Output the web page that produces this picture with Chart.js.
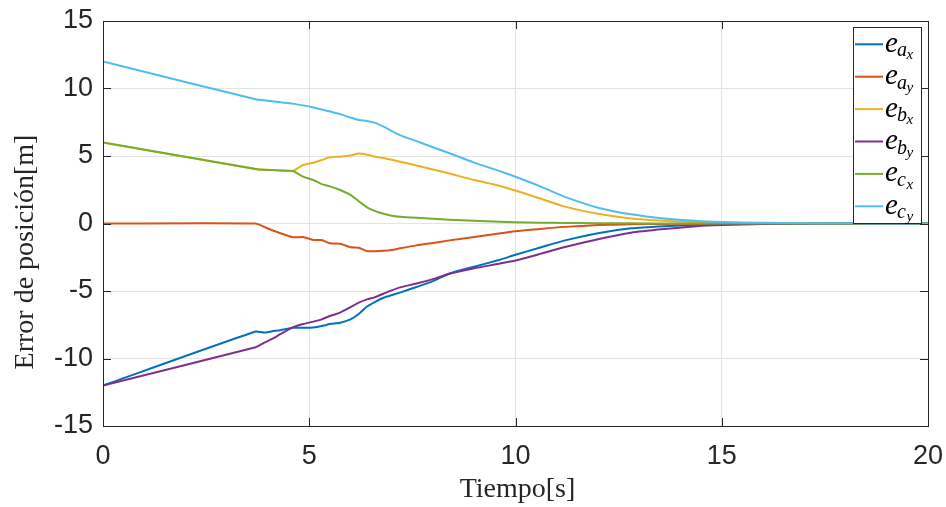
<!DOCTYPE html>
<html>
<head>
<meta charset="utf-8">
<script src="https://cdn.jsdelivr.net/npm/chart.js@4/dist/chart.umd.min.js"></script>
<style>
html,body{margin:0;padding:0;background:#fff;}
#wrap{width:946px;height:507px;position:relative;}
</style>
</head>
<body>
<div id="wrap"><canvas id="c" width="946" height="507"></canvas></div>
<script>
// ---- data ----
const times = [0, 3.7, 3.9, 4.1, 4.3, 4.6, 4.85, 5.1, 5.3, 5.5, 5.75, 6.0, 6.2, 6.4, 6.6, 6.8, 7.0, 7.2, 7.6, 8.0, 8.4, 9.0, 9.6, 10.0, 10.6, 11.2, 12.0, 12.8, 13.6, 14.4, 15, 16, 17, 18, 20];
const e_ax = [-12, -8.0, -8.08, -7.98, -7.9, -7.72, -7.72, -7.7, -7.6, -7.45, -7.35, -7.1, -6.7, -6.15, -5.8, -5.5, -5.3, -5.12, -4.7, -4.27, -3.7, -3.2, -2.7, -2.32, -1.78, -1.25, -0.72, -0.36, -0.2, -0.1, -0.06, -0.02, -0.01, 0, 0];
const e_ay = [0, 0, -0.24, -0.5, -0.72, -1.02, -1.0, -1.22, -1.22, -1.47, -1.5, -1.76, -1.79, -2.04, -2.05, -2.02, -1.96, -1.84, -1.62, -1.44, -1.25, -1.0, -0.74, -0.58, -0.4, -0.25, -0.12, -0.06, -0.03, -0.02, -0.01, 0, 0, 0, 0];
const e_bx = [6, 4.04, 3.98, 3.96, 3.93, 3.89, 4.33, 4.5, 4.7, 4.9, 4.95, 5.03, 5.18, 5.1, 4.95, 4.85, 4.72, 4.58, 4.3, 4.0, 3.7, 3.22, 2.8, 2.44, 1.85, 1.25, 0.72, 0.37, 0.2, 0.1, 0.06, 0.02, 0.01, 0, 0];
const e_by = [-12, -9.17, -8.85, -8.55, -8.2, -7.69, -7.45, -7.27, -7.1, -6.85, -6.6, -6.2, -5.86, -5.62, -5.45, -5.2, -4.95, -4.73, -4.45, -4.12, -3.72, -3.32, -2.98, -2.74, -2.25, -1.74, -1.16, -0.68, -0.41, -0.2, -0.12, -0.04, -0.01, 0, 0];
const e_cx = [6, 4.04, 3.98, 3.96, 3.93, 3.89, 3.47, 3.22, 2.92, 2.75, 2.48, 2.12, 1.65, 1.2, 0.92, 0.72, 0.58, 0.5, 0.42, 0.36, 0.28, 0.2, 0.13, 0.1, 0.06, 0.04, 0.02, 0.01, 0, 0, 0, 0, 0, 0, 0];
const e_cy = [12, 9.2, 9.13, 9.05, 8.98, 8.88, 8.75, 8.6, 8.45, 8.3, 8.1, 7.85, 7.67, 7.6, 7.45, 7.17, 6.85, 6.55, 6.1, 5.65, 5.2, 4.51, 3.9, 3.46, 2.75, 1.97, 1.17, 0.68, 0.37, 0.19, 0.12, 0.05, 0.02, 0.01, 0];
const xTicks = [0, 5, 10, 15, 20];
const yTicks = [-15, -10, -5, 0, 5, 10, 15];
const legendMain = ['e', 'e', 'e', 'e', 'e', 'e'];
const legendSub = ['a', 'a', 'b', 'b', 'c', 'c'];
const legendSubSub = ['x', 'y', 'x', 'y', 'x', 'y'];
const xTitle = 'Tiempo[s]';
const yTitle = 'Error de posición[m]';

const seriesList = [e_ax, e_ay, e_bx, e_by, e_cx, e_cy];
const colors = ['#0072BD', '#D95319', '#EDB120', '#7E2F8E', '#77AC30', '#4DBEEE'];

const datasets = seriesList.map((vals, i) => ({
  label: legendMain[i] + '_' + legendSub[i] + legendSubSub[i],
  data: times.map((t, k) => ({x: t, y: vals[k]})),
  borderColor: colors[i],
  backgroundColor: colors[i],
  borderWidth: 2,
  pointRadius: 0,
  fill: false,
  tension: 0.2,
  borderJoinStyle: 'round',
  order: seriesList.length - i
}));

const AX = '#262626';

const framePlugin = {
  id: 'frame',
  afterDatasetsDraw(chart) {
    const {ctx, chartArea: a, scales} = chart;
    ctx.save();
    ctx.strokeStyle = AX;
    ctx.lineWidth = 1;
    const tl = 8;
    ctx.beginPath();
    xTicks.forEach(v => {
      const px = Math.round(scales.x.getPixelForValue(v)) + 0.5;
      ctx.moveTo(px, a.bottom); ctx.lineTo(px, a.bottom - tl);
      ctx.moveTo(px, a.top); ctx.lineTo(px, a.top + tl);
    });
    yTicks.forEach(v => {
      const py = Math.round(scales.y.getPixelForValue(v)) + 0.5;
      ctx.moveTo(a.left, py); ctx.lineTo(a.left + tl, py);
      ctx.moveTo(a.right, py); ctx.lineTo(a.right - tl, py);
    });
    ctx.stroke();
    ctx.strokeRect(Math.round(a.left) + 0.5, Math.round(a.top) + 0.5, Math.round(a.right - a.left), Math.round(a.bottom - a.top));
    ctx.restore();
  },
  afterDraw(chart) {
    const {ctx, chartArea: a} = chart;
    ctx.save();
    // axis titles
    ctx.fillStyle = AX;
    ctx.font = '28px "Liberation Serif", serif';
    ctx.textAlign = 'center';
    ctx.textBaseline = 'alphabetic';
    ctx.fillText(xTitle, (a.left + a.right) / 2 + 2, 497);
    ctx.save();
    ctx.translate(33, 252);
    ctx.rotate(-Math.PI / 2);
    ctx.fillText(yTitle, 0, 0);
    ctx.restore();

    // legend
    const bx = 853, by = 27, bw = 68, bh = 196;
    ctx.fillStyle = '#fff';
    ctx.fillRect(bx, by, bw, bh);
    ctx.strokeStyle = AX;
    ctx.lineWidth = 1;
    ctx.strokeRect(bx + 0.5, by + 0.5, bw, bh);
    ctx.textAlign = 'left';
    for (let i = 0; i < seriesList.length; i++) {
      const cy = 44.3 + i * 32.4;
      ctx.strokeStyle = colors[i];
      ctx.lineWidth = 2;
      ctx.beginPath();
      ctx.moveTo(855, cy); ctx.lineTo(883, cy);
      ctx.stroke();
      ctx.fillStyle = '#000';
      ctx.font = 'italic 29px "Liberation Serif", serif';
      ctx.fillText(legendMain[i], 885, cy + 7.5);
      ctx.font = 'italic 20px "Liberation Serif", serif';
      ctx.fillText(legendSub[i], 897, cy + 12);
      ctx.font = 'italic 15px "Liberation Serif", serif';
      ctx.fillText(legendSubSub[i], 906.5, cy + 15);
    }
    ctx.restore();
  }
};

new Chart(document.getElementById('c'), {
  type: 'line',
  data: {datasets},
  plugins: [framePlugin],
  options: {
    responsive: false,
    animation: false,
    layout: {padding: {left: 0, right: 18, top: 21, bottom: 0}},
    plugins: {legend: {display: false}, tooltip: {enabled: false}, title: {display: false}},
    scales: {
      x: {
        type: 'linear',
        min: 0, max: 20,
        afterFit(s) { s.height = 81; s.paddingLeft = 0; s.paddingRight = 0; },
        afterBuildTicks(s) { s.ticks = xTicks.map(v => ({value: v})); },
        grid: {color: '#e3e3e3', lineWidth: 1, drawTicks: false},
        border: {display: false},
        ticks: {color: AX, font: {family: '"Liberation Sans", Arial, sans-serif', size: 27}, padding: 14, maxRotation: 0}
      },
      y: {
        type: 'linear',
        min: -15, max: 15,
        afterFit(s) { s.width = 103; s.paddingTop = 0; s.paddingBottom = 0; },
        afterBuildTicks(s) { s.ticks = yTicks.map(v => ({value: v})); },
        grid: {color: '#e3e3e3', lineWidth: 1, drawTicks: false},
        border: {display: false},
        ticks: {color: AX, font: {family: '"Liberation Sans", Arial, sans-serif', size: 27}, padding: 10}
      }
    }
  }
});
</script>
</body>
</html>
